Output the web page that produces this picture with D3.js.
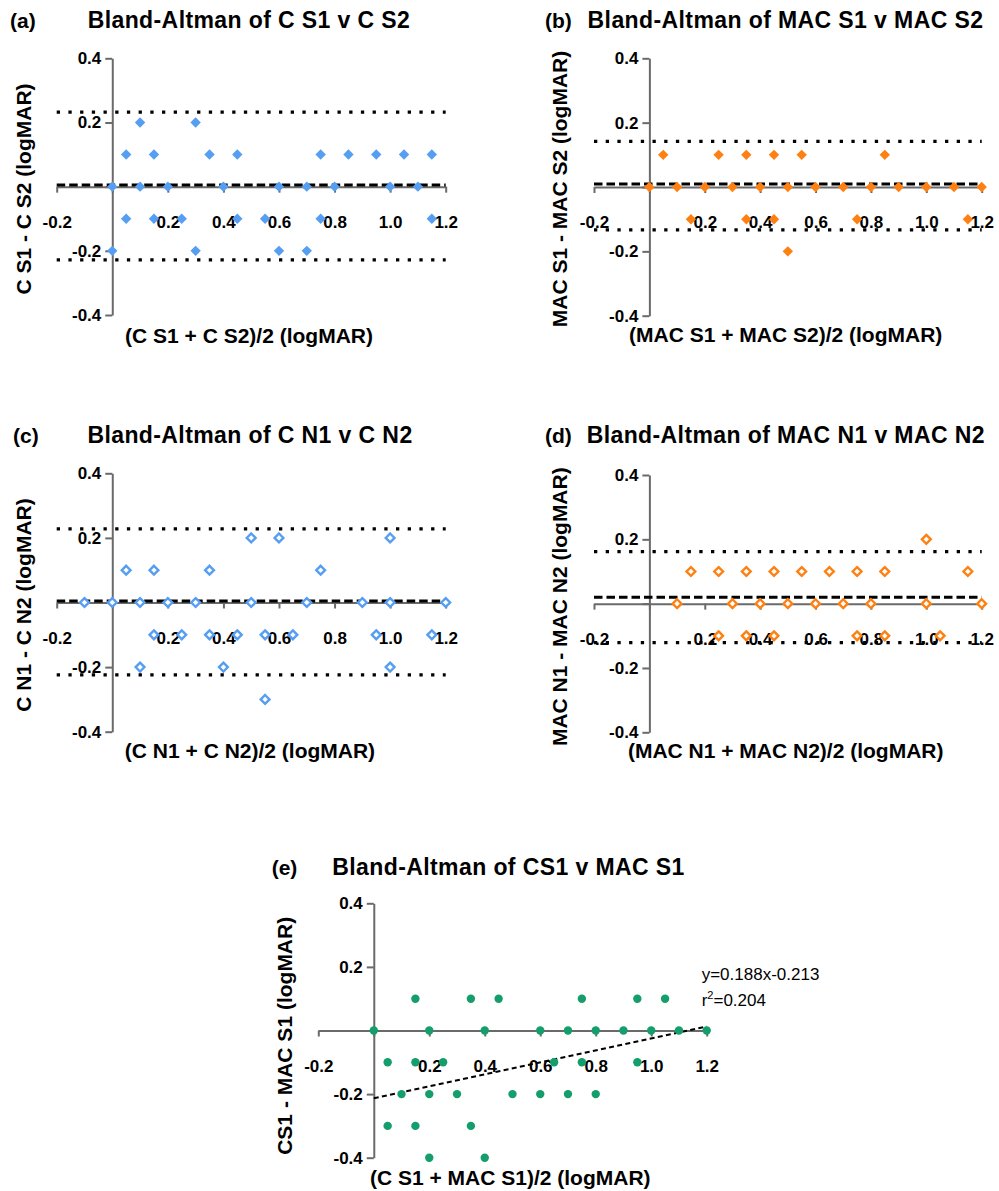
<!DOCTYPE html>
<html>
<head>
<meta charset="utf-8">
<script src="https://cdn.jsdelivr.net/npm/d3@7"></script>
<style>
  body { margin: 0; background: #fff; }
  svg { display: block; font-family: "Liberation Sans", Arial, sans-serif; }
  .axis path, .axis line { stroke: #6a6a6a; stroke-width: 2; }
  .axis text { fill: #000; font-weight: bold; font-size: 17px; font-family: "Liberation Sans", Arial, sans-serif; }
</style>
</head>
<body>
<svg id="chart" width="999" height="1191"></svg>
<script>
// panel (a) C S1 v C S2
let aMean = [0.1, 0.3, 0.05, 0.15, 0.35, 0.45, 0.75, 0.85, 0.95, 1.05, 1.15,
    0, 0.1, 0.2, 0.4, 0.6, 0.7, 0.8, 1.0, 1.1,
    0.05, 0.15, 0.25, 0.45, 0.55, 0.75, 1.15,
    0, 0.3, 0.6, 0.7]
let aDiff = [0.2, 0.2, 0.1, 0.1, 0.1, 0.1, 0.1, 0.1, 0.1, 0.1, 0.1,
    0, 0, 0, 0, 0, 0, 0, 0, 0,
    -0.1, -0.1, -0.1, -0.1, -0.1, -0.1, -0.1,
    -0.2, -0.2, -0.2, -0.2]
let aLimits = [0.232, 0.005, -0.228] // upper, bias, lower

// panel (b) MAC S1 v MAC S2
let bMean = [0.05, 0.25, 0.35, 0.45, 0.55, 0.85,
    0, 0.1, 0.2, 0.3, 0.4, 0.5, 0.6, 0.7, 0.8, 0.9, 1.0, 1.1, 1.2,
    0.15, 0.35, 0.45, 0.75, 1.15,
    0.5]
let bDiff = [0.1, 0.1, 0.1, 0.1, 0.1, 0.1,
    0, 0, 0, 0, 0, 0, 0, 0, 0, 0, 0, 0, 0,
    -0.1, -0.1, -0.1, -0.1, -0.1,
    -0.2]
let bLimits = [0.142, 0.009, -0.133]

// panel (c) C N1 v C N2
let cMean = [0.5, 0.6, 1.0,
    0.05, 0.15, 0.35, 0.75,
    -0.1, 0, 0.1, 0.2, 0.3, 0.5, 0.7, 0.9, 1.0, 1.2,
    0.15, 0.25, 0.35, 0.45, 0.55, 0.65, 0.95, 1.15,
    0.1, 0.4, 1.0,
    0.55]
let cDiff = [0.2, 0.2, 0.2,
    0.1, 0.1, 0.1, 0.1,
    0, 0, 0, 0, 0, 0, 0, 0, 0, 0,
    -0.1, -0.1, -0.1, -0.1, -0.1, -0.1, -0.1, -0.1,
    -0.2, -0.2, -0.2,
    -0.3]
let cLimits = [0.228, 0.005, -0.224]

// panel (d) MAC N1 v MAC N2
let dMean = [1.0,
    0.15, 0.25, 0.35, 0.45, 0.55, 0.65, 0.75, 0.85, 1.15,
    0.1, 0.3, 0.4, 0.5, 0.6, 0.7, 0.8, 1.0, 1.2,
    0.25, 0.35, 0.45, 0.75, 0.85, 1.05]
let dDiff = [0.2,
    0.1, 0.1, 0.1, 0.1, 0.1, 0.1, 0.1, 0.1, 0.1,
    0, 0, 0, 0, 0, 0, 0, 0, 0,
    -0.1, -0.1, -0.1, -0.1, -0.1, -0.1]
let dLimits = [0.162, 0.02, -0.121]

// panel (e) CS1 v MAC S1
let eMean = [0.15, 0.35, 0.45, 0.75, 0.95, 1.05,
    0, 0.2, 0.4, 0.6, 0.7, 0.8, 0.9, 1.0, 1.1, 1.2,
    0.05, 0.15, 0.25, 0.65, 0.75, 0.95,
    0.1, 0.2, 0.3, 0.5, 0.6, 0.7, 0.8,
    0.05, 0.15, 0.35,
    0.2, 0.4]
let eDiff = [0.1, 0.1, 0.1, 0.1, 0.1, 0.1,
    0, 0, 0, 0, 0, 0, 0, 0, 0, 0,
    -0.1, -0.1, -0.1, -0.1, -0.1, -0.1,
    -0.2, -0.2, -0.2, -0.2, -0.2, -0.2, -0.2,
    -0.3, -0.3, -0.3,
    -0.4, -0.4]
let eFit = [0.188, -0.213] // slope, intercept
let eFitRange = [0, 1.2]
let eR2 = "0.204"

let xTicks = [-0.2, 0, 0.2, 0.4, 0.6, 0.8, 1.0, 1.2]
let yTicks = [-0.4, -0.2, 0, 0.2, 0.4]

const blue = "#559ef2", orange = "#ff8012", green = "#139e6c"

let svg = d3.select("#chart")

function fmt(d) {
    return d === 0 ? "" : d.toFixed(1)
}

function panel(cfg) {
    let x = d3.scaleLinear().domain([-0.2, 1.2]).range(cfg.xr)
    let y = d3.scaleLinear().domain([-0.4, 0.4]).range(cfg.yr)
    let g = svg.append("g")

    // axes cross at zero
    g.append("g").attr("class", "axis")
        .attr("transform", "translate(0," + y(0) + ")")
        .call(d3.axisBottom(x).tickValues(xTicks).tickSize(6).tickSizeOuter(0).tickPadding(23).tickFormat(fmt))
    g.append("g").attr("class", "axis")
        .attr("transform", "translate(" + x(0) + ",0)")
        .call(d3.axisLeft(y).tickValues(yTicks).tickSize(7).tickSizeOuter(0).tickPadding(4).tickFormat(fmt))

    // limits of agreement and bias
    if (cfg.limits) {
        let lim = cfg.limits
        ;[lim[0], lim[2]].forEach(function (v) {
            g.append("line")
                .attr("x1", x(-0.2)).attr("x2", x(1.2))
                .attr("y1", y(v)).attr("y2", y(v))
                .attr("stroke", "#000").attr("stroke-width", 3.3)
                .attr("stroke-dasharray", "3.3 8.4")
        })
        g.append("line")
            .attr("x1", x(-0.2)).attr("x2", x(1.2))
            .attr("y1", y(lim[1])).attr("y2", y(lim[1]))
            .attr("stroke", "#000").attr("stroke-width", 3)
            .attr("stroke-dasharray", "8.5 4")
    }

    // regression line
    if (cfg.fit) {
        let f = cfg.fit
        g.append("line")
            .attr("x1", x(eFitRange[0])).attr("x2", x(eFitRange[1]))
            .attr("y1", y(f[0] * eFitRange[0] + f[1])).attr("y2", y(f[0] * eFitRange[1] + f[1]))
            .attr("stroke", "#000").attr("stroke-width", 2)
            .attr("stroke-dasharray", "5 3.3")
    }

    // points
    let pts = cfg.xs.map(function (d, i) { return [d, cfg.ys[i]] })
    if (cfg.shape === "circle") {
        g.selectAll("circle.pt").data(pts).enter().append("circle")
            .attr("cx", d => x(d[0])).attr("cy", d => y(d[1]))
            .attr("r", 4.2).attr("fill", cfg.color)
    } else {
        let open = cfg.shape === "open"
        let r = open ? 4.4 : 5.2
        g.selectAll("path.pt").data(pts).enter().append("path")
            .attr("d", d => "M" + x(d[0]) + "," + (y(d[1]) - r) + "l" + r + "," + r + "l" + (-r) + "," + r + "l" + (-r) + "," + (-r) + "Z")
            .attr("fill", open ? "#fff" : cfg.color)
            .attr("stroke", open ? cfg.color : "none")
            .attr("stroke-width", open ? 2.4 : 0)
    }

    // texts
    g.append("text").attr("x", cfg.tag[0]).attr("y", cfg.tag[1])
        .style("font-size", "21px").style("font-weight", "bold")
        .text(cfg.tagText)
    g.append("text").attr("x", cfg.title[0]).attr("y", cfg.title[1])
        .attr("text-anchor", "middle")
        .style("font-size", "23px").style("font-weight", "bold").style("letter-spacing", "0.4px")
        .text(cfg.titleText)
    g.append("text").attr("x", cfg.xlab[0]).attr("y", cfg.xlab[1])
        .attr("text-anchor", "middle")
        .style("font-size", "21px").style("font-weight", "bold")
        .text(cfg.xlabText)
    g.append("text")
        .attr("transform", "translate(" + cfg.ylab[0] + "," + cfg.ylab[1] + ") rotate(-90)")
        .attr("text-anchor", "middle")
        .style("font-size", "21px").style("font-weight", "bold")
        .text(cfg.ylabText)
    return { x: x, y: y, g: g }
}

panel({
    xr: [56.7, 445.7], yr: [315, 58.3], xs: aMean, ys: aDiff, limits: aLimits,
    shape: "filled", color: blue,
    tag: [10, 27.5], tagText: "(a)",
    title: [249, 27.5], titleText: "Bland-Altman of C S1 v C S2",
    xlab: [249, 343], xlabText: "(C S1 + C S2)/2 (logMAR)",
    ylab: [31, 189], ylabText: "C S1 - C S2 (logMAR)"
})
panel({
    xr: [594, 981.7], yr: [315.7, 58.3], xs: bMean, ys: bDiff, limits: bLimits,
    shape: "filled", color: orange,
    tag: [545, 27.5], tagText: "(b)",
    title: [785.5, 27.5], titleText: "Bland-Altman of MAC S1 v MAC S2",
    xlab: [785.7, 342.3], xlabText: "(MAC S1 + MAC S2)/2 (logMAR)",
    ylab: [566.7, 189], ylabText: "MAC S1 - MAC S2 (logMAR)"
})
panel({
    xr: [56.7, 445.7], yr: [731.7, 473.3], xs: cMean, ys: cDiff, limits: cLimits,
    shape: "open", color: blue,
    tag: [13, 442.7], tagText: "(c)",
    title: [250, 442.7], titleText: "Bland-Altman of C N1 v C N2",
    xlab: [250, 757.7], xlabText: "(C N1 + C N2)/2 (logMAR)",
    ylab: [31, 605], ylabText: "C N1 - C N2 (logMAR)"
})
panel({
    xr: [594, 981.7], yr: [732.3, 475], xs: dMean, ys: dDiff, limits: dLimits,
    shape: "open", color: orange,
    tag: [545, 443.3], tagText: "(d)",
    title: [785.8, 443.3], titleText: "Bland-Altman of MAC N1 v MAC N2",
    xlab: [785.7, 758.3], xlabText: "(MAC N1 + MAC N2)/2 (logMAR)",
    ylab: [566.7, 606.7], ylabText: "MAC N1 - MAC N2 (logMAR)"
})
let pe = panel({
    xr: [318.3, 706.7], yr: [1157.7, 903.3], xs: eMean, ys: eDiff, fit: eFit,
    shape: "circle", color: green,
    tag: [271.7, 875], tagText: "(e)",
    title: [508.5, 875], titleText: "Bland-Altman of CS1 v MAC S1",
    xlab: [510.3, 1184.5], xlabText: "(C S1 + MAC S1)/2 (logMAR)",
    ylab: [291.7, 1035.8], ylabText: "CS1 - MAC S1 (logMAR)"
})

// regression annotation
let ann = pe.g.append("text").attr("x", 701.7).attr("y", 980).style("font-size", "17px")
ann.text("y=" + eFit[0] + "x" + eFit[1])
let ann2 = pe.g.append("text").attr("x", 701.7).attr("y", 1006).style("font-size", "17px")
ann2.append("tspan").text("r")
ann2.append("tspan").attr("dy", -7).style("font-size", "11px").text("2")
ann2.append("tspan").attr("dy", 7).text("=" + eR2)
</script>
</body>
</html>
